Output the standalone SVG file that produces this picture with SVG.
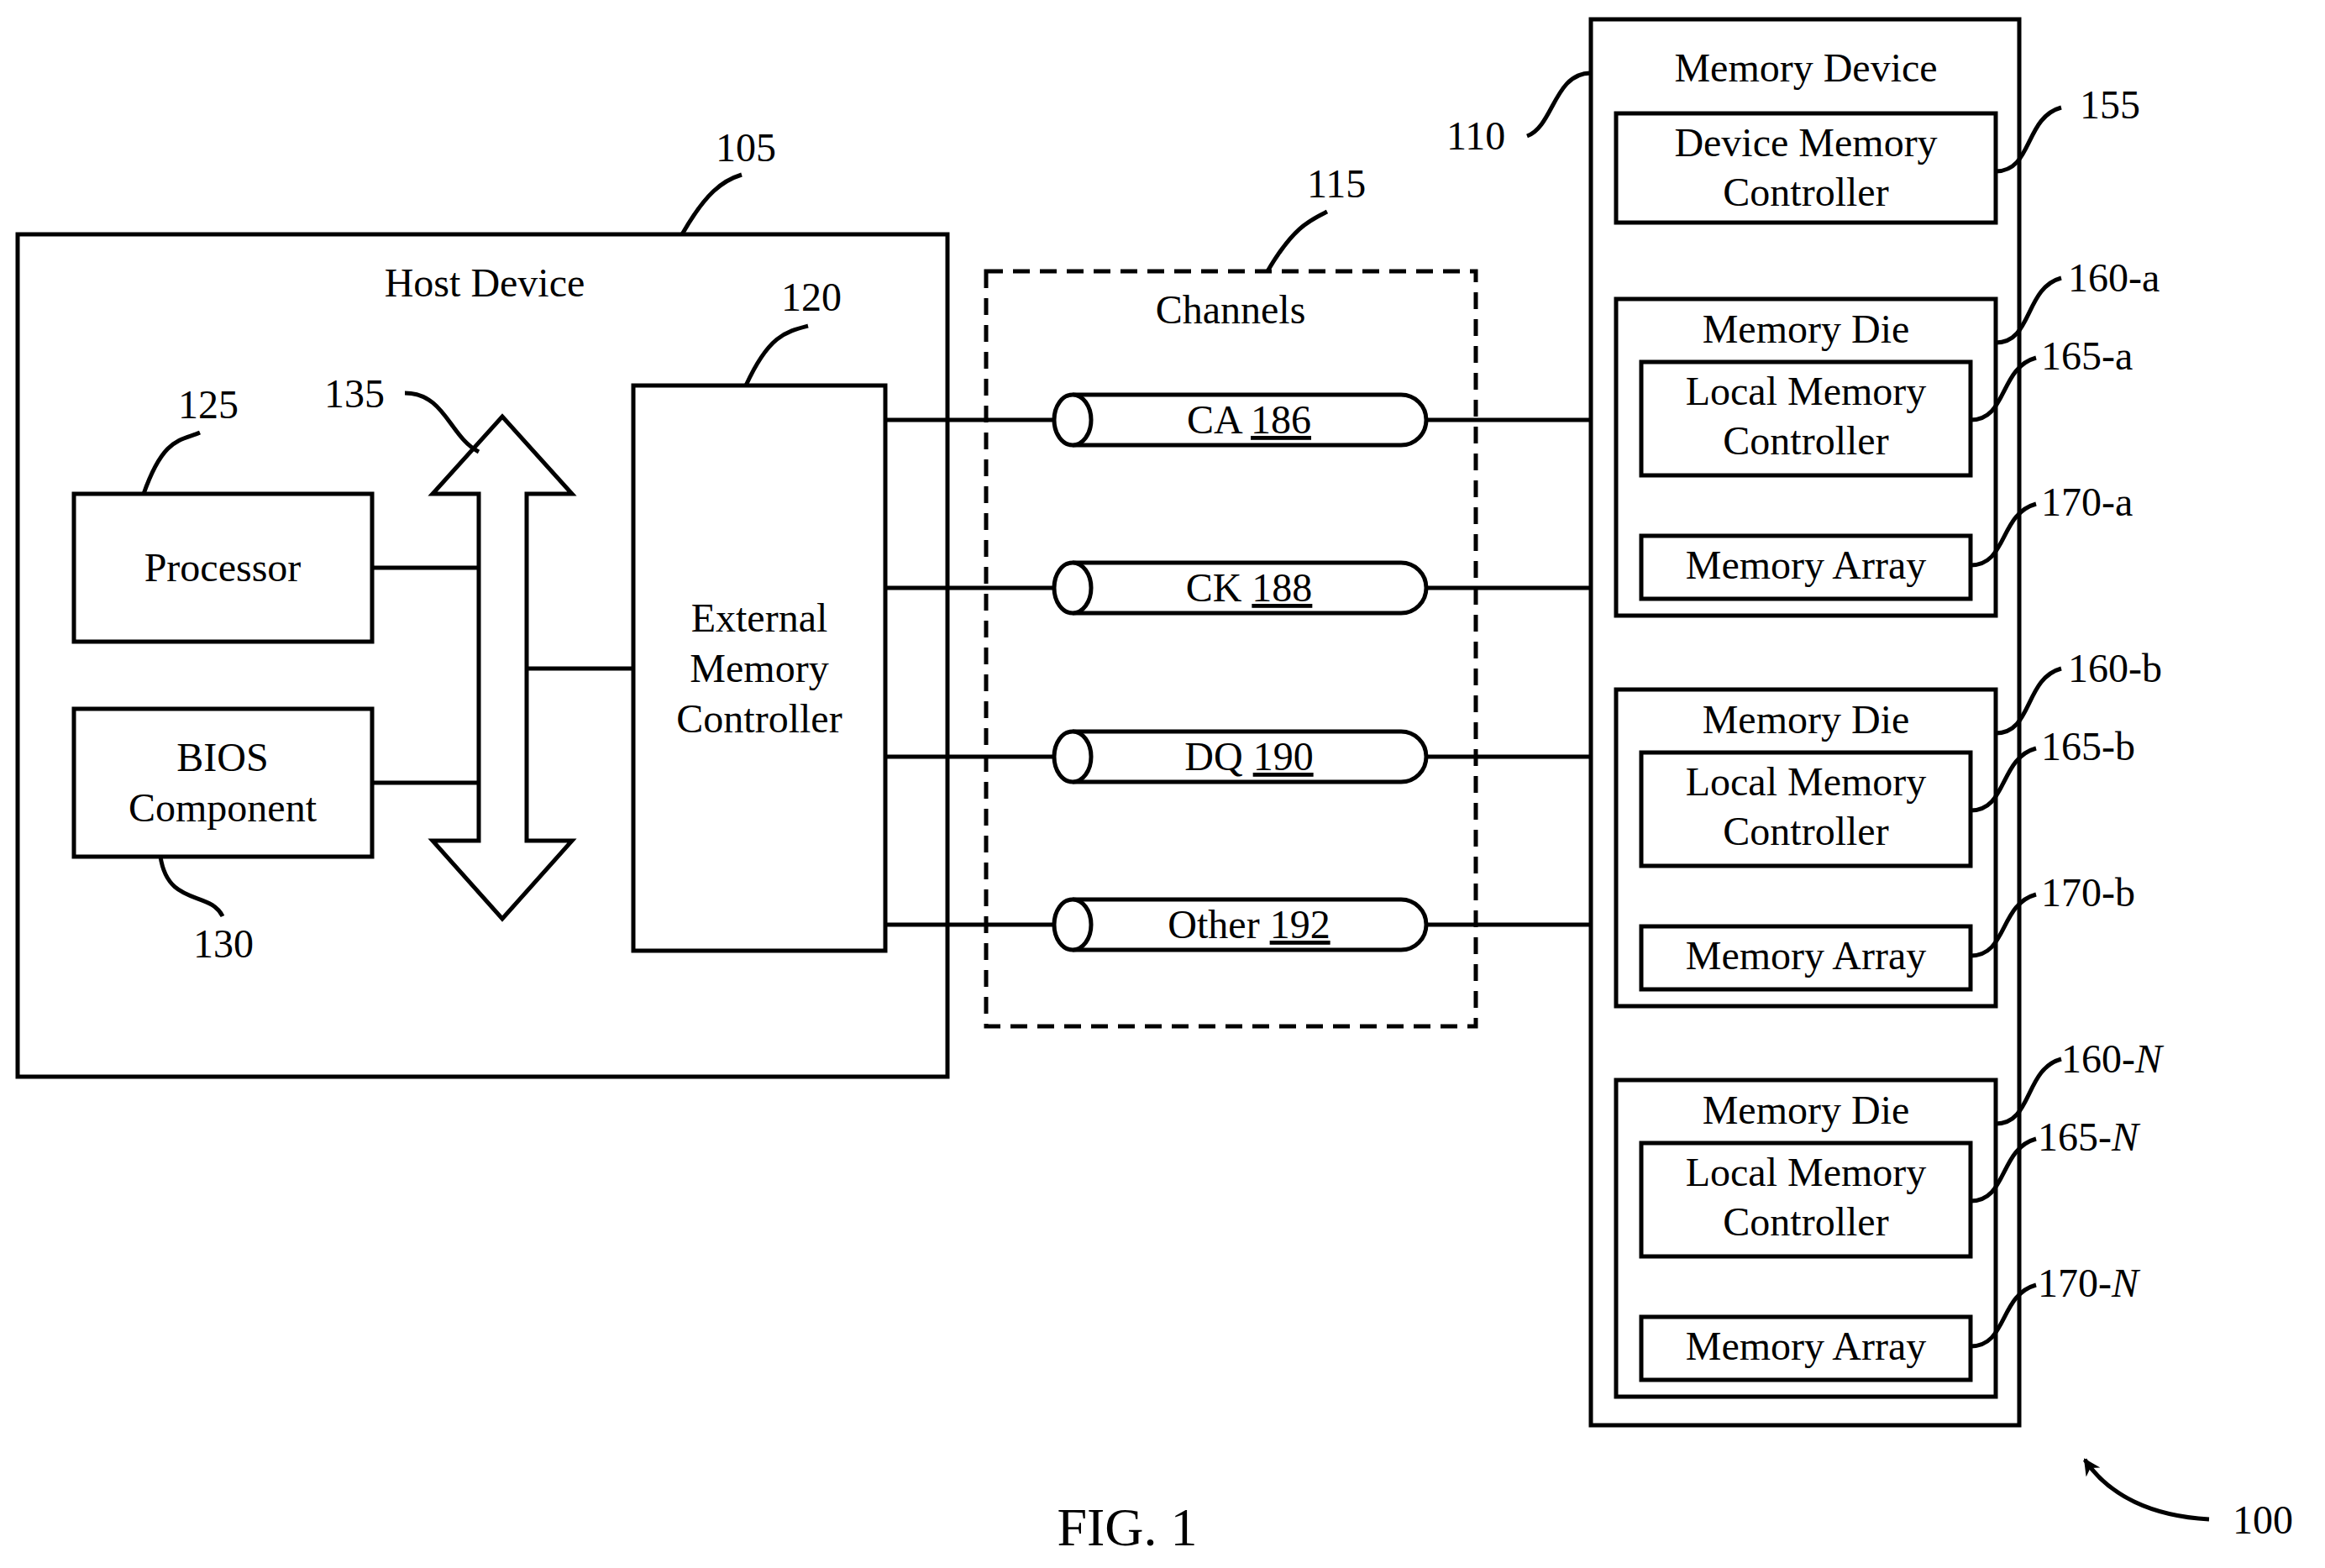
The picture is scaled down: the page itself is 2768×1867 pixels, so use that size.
<svg xmlns="http://www.w3.org/2000/svg" width="2768" height="1867" viewBox="0 0 2768 1867">
<style>
.b{fill:#fff;stroke:#000;stroke-width:5}
.l{fill:none;stroke:#000;stroke-width:5}
.t{font-family:"Liberation Serif",serif;font-size:48px;text-anchor:middle;fill:#000}
.r{font-family:"Liberation Serif",serif;font-size:48px;fill:#000}
</style>
<defs>
<marker id="a" viewBox="0 0 10 10" refX="9" refY="5" markerWidth="4" markerHeight="4" orient="auto-start-reverse"><path d="M0,0 L10,5 L0,10 L3,5 z" fill="#000"/></marker>
</defs>
<rect width="2768" height="1867" fill="#fff"/>
<g id="host"><rect class="b" x="21" y="279" width="1107" height="1003"/><text class="t" x="577" y="353">Host Device</text></g>
<g id="processor"><rect class="b" x="88" y="588" width="355" height="176"/><text class="t" x="265" y="692">Processor</text></g>
<g id="bios"><rect class="b" x="88" y="844" width="355" height="176"/><text class="t" x="265" y="918">BIOS</text><text class="t" x="265" y="978">Component</text></g>
<g id="bus"><path class="b" d="M598,496 L681,588 L627,588 L627,1001 L681,1001 L598,1094 L515,1001 L570,1001 L570,588 L515,588 Z"/></g>
<g id="emc"><rect class="b" x="754" y="459" width="300" height="673"/><text class="t" x="904" y="752">External</text><text class="t" x="904" y="812">Memory</text><text class="t" x="904" y="872">Controller</text></g>
<g id="channels"><rect x="1174" y="323" width="583" height="899" fill="none" stroke="#000" stroke-width="5" stroke-dasharray="20,12"/><text class="t" x="1465" y="385">Channels</text></g>
<g id="connectors">
<line class="l" x1="443" y1="676" x2="570" y2="676"/>
<line class="l" x1="443" y1="932" x2="570" y2="932"/>
<line class="l" x1="627" y1="796" x2="754" y2="796"/>
<line class="l" x1="1054" y1="500" x2="1277" y2="500"/><line class="l" x1="1698" y1="500" x2="1894" y2="500"/>
<line class="l" x1="1054" y1="700" x2="1277" y2="700"/><line class="l" x1="1698" y1="700" x2="1894" y2="700"/>
<line class="l" x1="1054" y1="901" x2="1277" y2="901"/><line class="l" x1="1698" y1="901" x2="1894" y2="901"/>
<line class="l" x1="1054" y1="1101" x2="1277" y2="1101"/><line class="l" x1="1698" y1="1101" x2="1894" y2="1101"/>
<line class="l" x1="2150" y1="268" x2="2150" y2="353" marker-start="url(#a)" marker-end="url(#a)"/>
<line class="l" x1="2150" y1="569" x2="2150" y2="635" marker-start="url(#a)" marker-end="url(#a)"/>
<line class="l" x1="2150" y1="736" x2="2150" y2="818" marker-start="url(#a)" marker-end="url(#a)"/>
<line class="l" x1="2150" y1="1034" x2="2150" y2="1100" marker-start="url(#a)" marker-end="url(#a)"/>
<line class="l" x1="2150" y1="1201" x2="2150" y2="1283" marker-start="url(#a)" marker-end="url(#a)"/>
<line class="l" x1="2150" y1="1499" x2="2150" y2="1565" marker-start="url(#a)" marker-end="url(#a)"/>
<path class="l" d="M2630,1809 C2560,1805 2510,1780 2482,1738" marker-end="url(#a)"/>
</g>
<g id="ch-ca"><path class="b" d="M1277,470 H1668 A30,30 0 0 1 1668,530 H1277"/><ellipse class="b" cx="1277" cy="500" rx="22" ry="30"/><text class="t" x="1487" y="516">CA <tspan text-decoration="underline">186</tspan></text></g>
<g id="ch-ck"><path class="b" d="M1277,670 H1668 A30,30 0 0 1 1668,730 H1277"/><ellipse class="b" cx="1277" cy="700" rx="22" ry="30"/><text class="t" x="1487" y="716">CK <tspan text-decoration="underline">188</tspan></text></g>
<g id="ch-dq"><path class="b" d="M1277,871 H1668 A30,30 0 0 1 1668,931 H1277"/><ellipse class="b" cx="1277" cy="901" rx="22" ry="30"/><text class="t" x="1487" y="917">DQ <tspan text-decoration="underline">190</tspan></text></g>
<g id="ch-other"><path class="b" d="M1277,1071 H1668 A30,30 0 0 1 1668,1131 H1277"/><ellipse class="b" cx="1277" cy="1101" rx="22" ry="30"/><text class="t" x="1487" y="1117">Other <tspan text-decoration="underline">192</tspan></text></g>
<g id="memdev"><rect class="b" x="1894" y="23" width="510" height="1674"/><text class="t" x="2150" y="97">Memory Device</text></g>
<g id="dmc"><rect class="b" x="1924" y="135" width="452" height="130"/><text class="t" x="2150" y="186">Device Memory</text><text class="t" x="2150" y="245">Controller</text></g>
<g id="die-a"><rect class="b" x="1924" y="356" width="452" height="377"/><text class="t" x="2150" y="408">Memory Die</text>
<rect class="b" x="1954" y="431" width="392" height="135"/><text class="t" x="2150" y="482">Local Memory</text><text class="t" x="2150" y="541">Controller</text>
<rect class="b" x="1954" y="638" width="392" height="75"/><text class="t" x="2150" y="689">Memory Array</text></g>
<g id="die-b" transform="translate(0,465)"><rect class="b" x="1924" y="356" width="452" height="377"/><text class="t" x="2150" y="408">Memory Die</text>
<rect class="b" x="1954" y="431" width="392" height="135"/><text class="t" x="2150" y="482">Local Memory</text><text class="t" x="2150" y="541">Controller</text>
<rect class="b" x="1954" y="638" width="392" height="75"/><text class="t" x="2150" y="689">Memory Array</text></g>
<g id="die-n" transform="translate(0,930)"><rect class="b" x="1924" y="356" width="452" height="377"/><text class="t" x="2150" y="408">Memory Die</text>
<rect class="b" x="1954" y="431" width="392" height="135"/><text class="t" x="2150" y="482">Local Memory</text><text class="t" x="2150" y="541">Controller</text>
<rect class="b" x="1954" y="638" width="392" height="75"/><text class="t" x="2150" y="689">Memory Array</text></g>
<g id="labels">
<path class="l" d="M812,279 C840,230 860,215 883,208"/><text class="r" x="852" y="192">105</text>
<path class="l" d="M1509,323 C1540,270 1560,262 1580,252"/><text class="r" x="1556" y="235">115</text>
<path class="l" d="M888,459 C915,400 935,395 962,388"/><text class="r" x="930" y="370">120</text>
<path class="l" d="M171,588 C195,520 215,525 238,515"/><text class="r" x="212" y="498">125</text>
<path class="l" d="M482,468 C530,468 535,520 570,538"/><text class="r" x="386" y="485">135</text>
<path class="l" d="M191,1020 C200,1080 250,1060 265,1091"/><text class="r" x="230" y="1140">130</text>
<path class="l" d="M1894,87 C1850,87 1850,150 1818,162"/><text class="r" x="1722" y="178">110</text>
<path class="l" d="M2376,204 C2420,204 2410,140 2454,128"/><text class="r" x="2476" y="141">155</text>
<text class="r" x="2658" y="1826">100</text>
<text class="t" x="1342" y="1840" style="font-size:64px">FIG. 1</text>
<path class="l" d="M2376,408 C2420,408 2410,343 2454,331"/><text class="r" x="2462" y="347">160-a</text>
<path class="l" d="M2346,500 C2390,500 2380,438 2424,426"/><text class="r" x="2430" y="440">165-a</text>
<path class="l" d="M2346,673 C2390,673 2380,612 2424,600"/><text class="r" x="2430" y="614">170-a</text>
<g transform="translate(0,465)">
<path class="l" d="M2376,408 C2420,408 2410,343 2454,331"/><text class="r" x="2462" y="347">160-b</text>
<path class="l" d="M2346,500 C2390,500 2380,438 2424,426"/><text class="r" x="2430" y="440">165-b</text>
<path class="l" d="M2346,673 C2390,673 2380,612 2424,600"/><text class="r" x="2430" y="614">170-b</text>
</g>
<g transform="translate(0,930)">
<path class="l" d="M2376,408 C2420,408 2410,343 2454,331"/><text class="r" x="2454" y="347">160-<tspan font-style="italic">N</tspan></text>
<path class="l" d="M2346,500 C2390,500 2380,438 2424,426"/><text class="r" x="2426" y="440">165-<tspan font-style="italic">N</tspan></text>
<path class="l" d="M2346,673 C2390,673 2380,612 2424,600"/><text class="r" x="2426" y="614">170-<tspan font-style="italic">N</tspan></text>
</g>
</g>
</svg>
